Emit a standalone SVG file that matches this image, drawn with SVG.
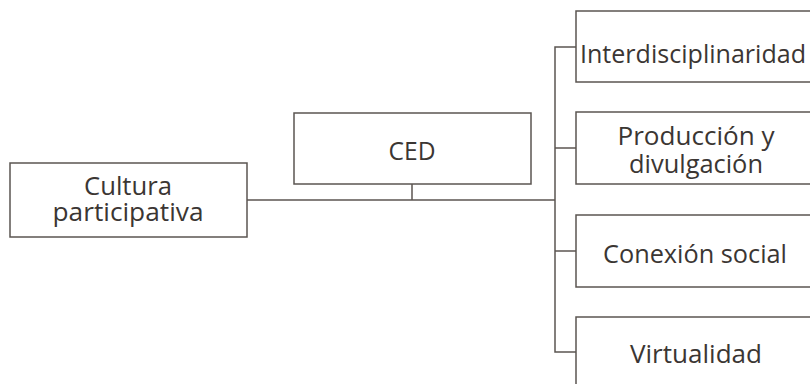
<svg xmlns="http://www.w3.org/2000/svg" width="810" height="384" viewBox="0 0 810 384">
<style>
.box{fill:#fff;stroke:#5b5551;stroke-width:1.5}
.t{font-family:"Open Sans","Liberation Sans",sans-serif;font-size:25px;font-weight:500;fill:#3b3633;text-anchor:middle}
.c{fill:none;stroke:#5b5551;stroke-width:1.5}
</style>
<rect width="810" height="384" fill="#fff"/>
<g id="connectors">
<line class="c" x1="247" y1="200" x2="555" y2="200" stroke-width="2.5"/>
<line class="c" x1="412" y1="184" x2="412" y2="200"/>
<polyline class="c" points="576,47 555,47 555,352 576,352"/>
<line class="c" x1="555" y1="148" x2="576" y2="148"/>
<line class="c" x1="555" y1="251" x2="576" y2="251"/>
</g>
<g id="cultura"><rect class="box" x="10" y="163" width="237" height="74"/>
<text class="t" x="128" y="195" textLength="88" lengthAdjust="spacingAndGlyphs">Cultura</text><text class="t" x="128" y="221" textLength="151" lengthAdjust="spacingAndGlyphs">participativa</text></g>
<g id="ced"><rect class="box" x="294" y="113" width="237" height="71"/>
<text class="t" x="412" y="160" textLength="47" lengthAdjust="spacingAndGlyphs">CED</text></g>
<g id="inter"><rect class="box" x="576" y="11" width="240" height="71"/>
<text class="t" x="693" y="63" textLength="226" lengthAdjust="spacingAndGlyphs">Interdisciplinaridad</text></g>
<g id="prod"><rect class="box" x="576" y="112" width="240" height="72"/>
<text class="t" x="696" y="145" textLength="157" lengthAdjust="spacingAndGlyphs">Producción y</text><text class="t" x="696" y="173" textLength="134" lengthAdjust="spacingAndGlyphs">divulgación</text></g>
<g id="conex"><rect class="box" x="576" y="215" width="240" height="72"/>
<text class="t" x="695" y="263" textLength="184" lengthAdjust="spacingAndGlyphs">Conexión social</text></g>
<g id="virt"><rect class="box" x="576" y="317" width="240" height="80"/>
<text class="t" x="696" y="363" textLength="132" lengthAdjust="spacingAndGlyphs">Virtualidad</text></g>
</svg>
